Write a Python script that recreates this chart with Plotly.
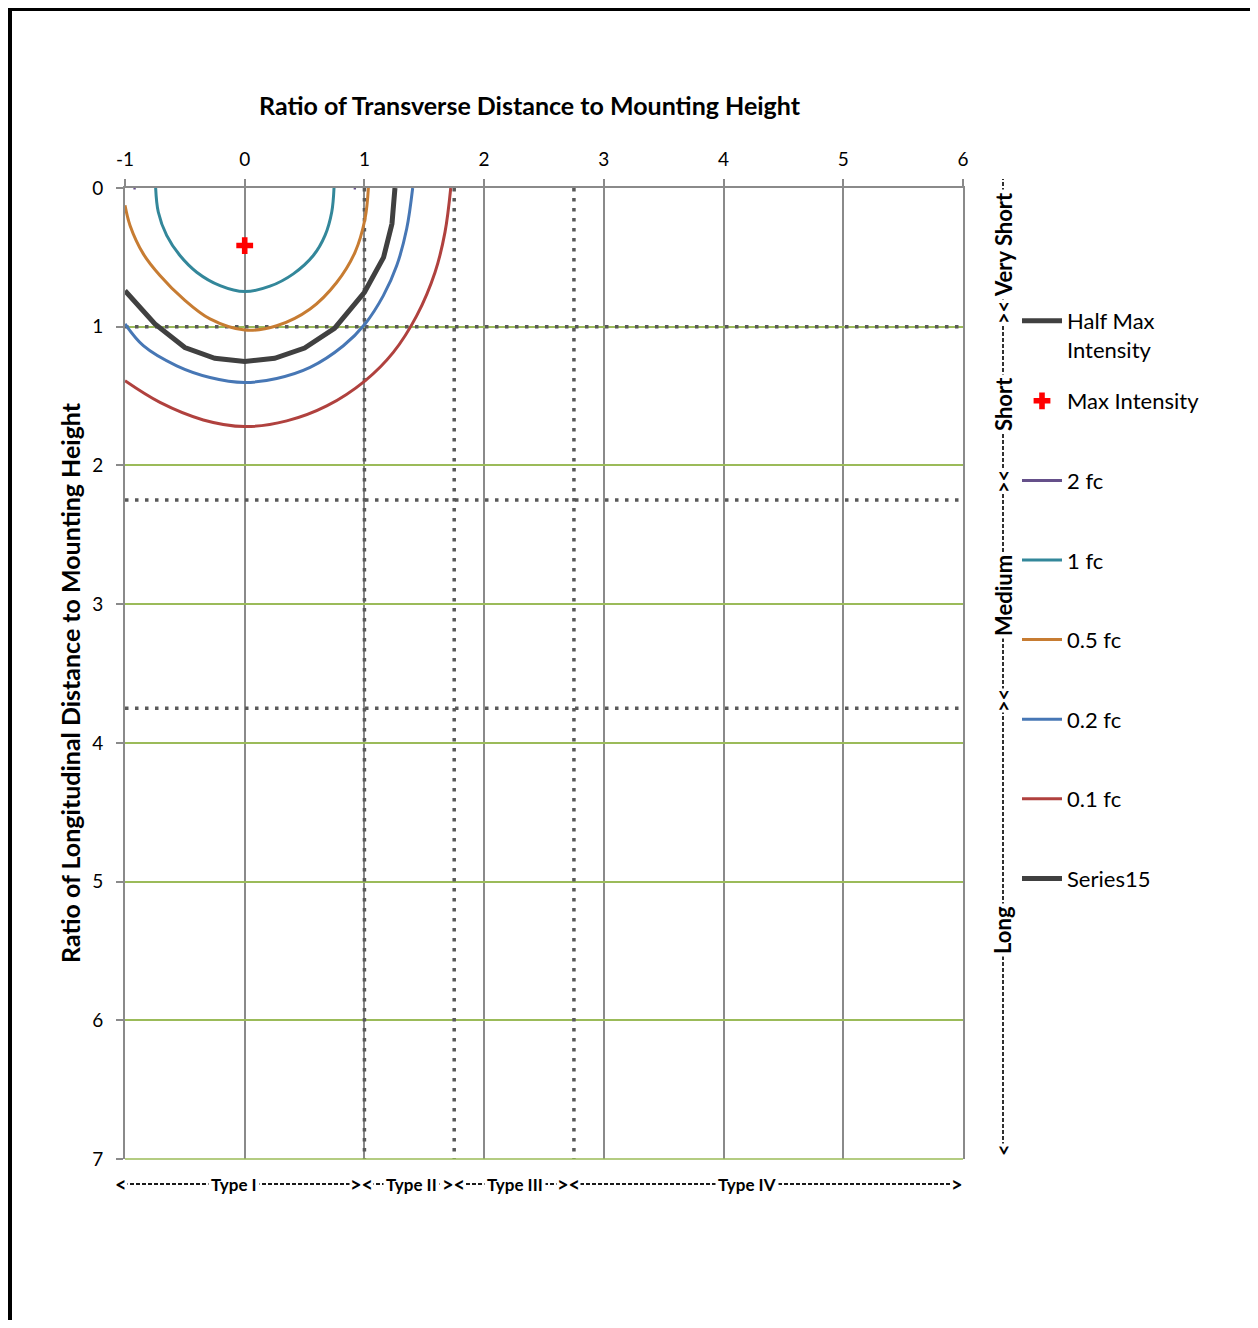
import plotly.graph_objects as go

# ---------------- data ----------------
x_ticks = [-1, 0, 1, 2, 3, 4, 5, 6]
y_ticks = [0, 1, 2, 3, 4, 5, 6, 7]

half_max_x = [-1.0, -0.75, -0.5, -0.25, 0.0, 0.25, 0.5, 0.75, 1.0, 1.16, 1.23, 1.255]
half_max_y = [0.74, 0.98, 1.15, 1.228, 1.25, 1.228, 1.154, 1.012, 0.752, 0.5, 0.258, 0.0]

max_int_x = [0.0]
max_int_y = [0.415]

fc2_x = [-0.93, -0.91, None, 0.91, 0.93]
fc2_y = [0.0, 0.0, None, 0.0, 0.0]

fc1_x = [-0.744, -0.722, -0.652, -0.541, -0.401, -0.206, 0.0, 0.211, 0.406, 0.573, 0.671, 0.727, 0.746]
fc1_y = [0.0, 0.173, 0.342, 0.487, 0.607, 0.704, 0.747, 0.708, 0.619, 0.487, 0.342, 0.173, 0.0]

fc05_x = [-1.0, -0.958, -0.847, -0.708, -0.513, -0.290, 0.0, 0.267, 0.546, 0.768, 0.922, 1.005, 1.033]
fc05_y = [0.125, 0.270, 0.475, 0.631, 0.800, 0.944, 1.024, 0.993, 0.872, 0.681, 0.462, 0.222, 0.0]

fc02_x = [-1.0, -0.847, -0.568, -0.290, 0.0, 0.267, 0.546, 0.824, 1.005, 1.158, 1.270, 1.353, 1.403]
fc02_y = [0.980, 1.137, 1.282, 1.366, 1.402, 1.373, 1.293, 1.137, 0.980, 0.776, 0.559, 0.294, 0.0]

fc01_x = [-1.0, -0.708, -0.346, 0.0, 0.351, 0.685, 1.005, 1.241, 1.437, 1.590, 1.673, 1.721]
fc01_y = [1.390, 1.546, 1.672, 1.720, 1.679, 1.571, 1.390, 1.185, 0.920, 0.607, 0.318, 0.0]

type_bounds_x = [1.0, 1.75, 2.75]      # Type I/II, II/III, III/IV boundaries
range_bounds_y = [1.0, 2.25, 3.75]     # Very short/short, short/medium, medium/long

type_labels = ["Type I", "Type II", "Type III", "Type IV"]
range_labels = ["Long", "Medium", "Short", "Very Short"]

# ---------------- layout helpers (page pixel -> paper) ----------------
OFF = 8                      # default body margin of the page
PW, PH = 1258, 1328          # page size
W, H = PW - 2 * OFF, PH - 2 * OFF
L, R, T, B = 125, 963, 188, 1159   # plot area in page pixels


def px_x(p):
    return (p - L) / (R - L)


def px_y(p):
    return (B - p) / (B - T)


FONT = "Lato, Carlito, 'Open Sans', sans-serif"
GRAY = "#8a8a8a"
GREEN = "#9bbb59"
DOT = "#595959"

fig = go.Figure()

# dotted classification boundaries
for xb in type_bounds_x:
    fig.add_trace(go.Scatter(x=[xb, xb], y=[y_ticks[0], y_ticks[-1]], mode="lines",
                             line=dict(color=DOT, width=3.5, dash="3.5px,6.5px"),
                             showlegend=False, hoverinfo="skip"))
for yb in range_bounds_y:
    fig.add_trace(go.Scatter(x=[x_ticks[0], x_ticks[-1]], y=[yb, yb], mode="lines",
                             line=dict(color=DOT, width=3.5, dash="3.5px,6.5px"),
                             showlegend=False, hoverinfo="skip"))

curves = [
    ("2 fc", fc2_x, fc2_y, "#65508a", "linear"),
    ("1 fc", fc1_x, fc1_y, "#33879a", "spline"),
    ("0.5 fc", fc05_x, fc05_y, "#c77c32", "spline"),
    ("0.2 fc", fc02_x, fc02_y, "#4777b5", "spline"),
    ("0.1 fc", fc01_x, fc01_y, "#b0413e", "spline"),
]
for i, (name, xs, ys, col, shp) in enumerate(curves):
    fig.add_trace(go.Scatter(x=xs, y=ys, mode="lines", name=name,
                             line=dict(color=col, width=3, shape=shp),
                             legend="legend2", legendgroup=name, legendrank=3 + i))

fig.add_trace(go.Scatter(x=half_max_x, y=half_max_y, mode="lines",
                         name="Half Max<br>Intensity",
                         line=dict(color="#404040", width=5),
                         legend="legend", legendgroup="hm", legendrank=1))
fig.add_trace(go.Scatter(x=max_int_x, y=max_int_y, mode="markers",
                         name="Max Intensity",
                         marker=dict(symbol="cross", color="#ff0000", size=14,
                                     line=dict(width=0)),
                         legend="legend2", legendgroup="mi", legendrank=2))
fig.add_trace(go.Scatter(x=[None], y=[None], mode="lines", name="Series15",
                         line=dict(color="#404040", width=5),
                         legend="legend2", legendgroup="s15", legendrank=9))

BRACKET = dict(color="#1a1a1a", width=1.8, dash="4px,2px")
shapes = [
    # frame border of the original image
    dict(type="line", xref="paper", yref="paper", x0=px_x(9.5), x1=px_x(9.5),
         y0=px_y(OFF), y1=px_y(PH), line=dict(color="black", width=5)),
    dict(type="line", xref="paper", yref="paper", x0=px_x(7), x1=px_x(PW),
         y0=px_y(9.5), y1=px_y(9.5), line=dict(color="black", width=3)),
    # bottom edge of plot area (green, like the horizontal grid)
    dict(type="line", xref="paper", yref="paper", x0=0, x1=1, y0=0, y1=0,
         line=dict(color=GREEN, width=1.6)),
    # bottom bracket line (types)
    dict(type="line", xref="paper", yref="paper", x0=px_x(124), x1=px_x(953),
         y0=px_y(1184), y1=px_y(1184), line=BRACKET),
    # right bracket line (ranges)
    dict(type="line", xref="paper", yref="paper", x0=px_x(1003), x1=px_x(1003),
         y0=px_y(1146), y1=px_y(179), line=BRACKET),
]


def note(text, xp, yp, size, angle=0, bg=None, pad=1):
    d = dict(text=text, x=px_x(xp), y=px_y(yp), xref="paper", yref="paper",
             xanchor="center", yanchor="middle", showarrow=False, textangle=angle,
             borderpad=pad, font=dict(size=size, family=FONT, color="black"))
    if bg:
        d["bgcolor"] = bg
    return d


ann = [
    note("<b>Ratio of Transverse Distance to Mounting Height</b>", 530, 105, 25),
    note("<b>Ratio of Longitudinal Distance to Mounting Height</b>", 70, 683, 25, angle=-90),
]

# bottom type labels
for lab, cx in zip(type_labels, [234, 411, 515, 747]):
    ann.append(note("<b>" + lab + "</b>", cx, 1184, 17, bg="white", pad=2))
for txt, cx in [("&lt;", 121), ("&gt;&lt;", 361), ("&gt;&lt;", 453), ("&gt;&lt;", 568), ("&gt;", 957)]:
    ann.append(note("<b>" + txt + "</b>", cx, 1184, 20, bg="white", pad=0))

# right range labels (rotated)
for lab, cy in zip(range_labels, [930, 596, 404, 245]):
    ann.append(note("<b>" + lab + "</b>", 1003, cy, 22, angle=-90, bg="white", pad=2))
for txt, cy in [("&lt;", 1150), ("&gt;&lt;", 701), ("&gt;&lt;", 482), ("&gt;&lt;", 313)]:
    ann.append(note("<b>" + txt + "</b>", 1003, cy, 20, angle=-90, bg="white", pad=0))

fig.update_layout(
    width=W, height=H,
    margin=dict(l=L - OFF, r=W - (R - OFF), t=T - OFF, b=H - (B - OFF), pad=0),
    paper_bgcolor="white", plot_bgcolor="white",
    font=dict(family=FONT, size=19, color="black"),
    xaxis=dict(range=[x_ticks[0], x_ticks[-1]], side="top", tickvals=x_ticks,
               ticktext=[str(v) for v in x_ticks],
               showgrid=True, gridcolor=GRAY, gridwidth=1.6, zeroline=False,
               showline=True, linecolor=GRAY, linewidth=1.6,
               ticks="outside", ticklen=7, tickcolor=GRAY, tickwidth=1.6,
               ticklabelstandoff=6,
               tickfont=dict(size=19, family=FONT, color="black")),
    yaxis=dict(range=[y_ticks[-1], y_ticks[0]], tickvals=y_ticks,
               ticktext=[str(v) for v in y_ticks],
               showgrid=True, gridcolor=GREEN, gridwidth=1.6, zeroline=False,
               showline=True, linecolor=GRAY, linewidth=1.6, mirror=True,
               ticks="outside", ticklen=7, tickcolor=GRAY, tickwidth=1.6,
               ticklabelstandoff=9,
               tickfont=dict(size=19, family=FONT, color="black")),
    legend=dict(x=px_x(1017), y=px_y(300), xanchor="left", yanchor="top",
                valign="top", bgcolor="rgba(0,0,0,0)", tracegroupgap=0,
                font=dict(size=22, family=FONT, color="black"), itemwidth=40),
    legend2=dict(x=px_x(1017), y=px_y(380), xanchor="left", yanchor="top",
                 bgcolor="rgba(0,0,0,0)", tracegroupgap=48,
                 font=dict(size=22, family=FONT, color="black"), itemwidth=40),
    shapes=shapes,
    annotations=ann,
    showlegend=True,
)

fig.write_html("out.html")
